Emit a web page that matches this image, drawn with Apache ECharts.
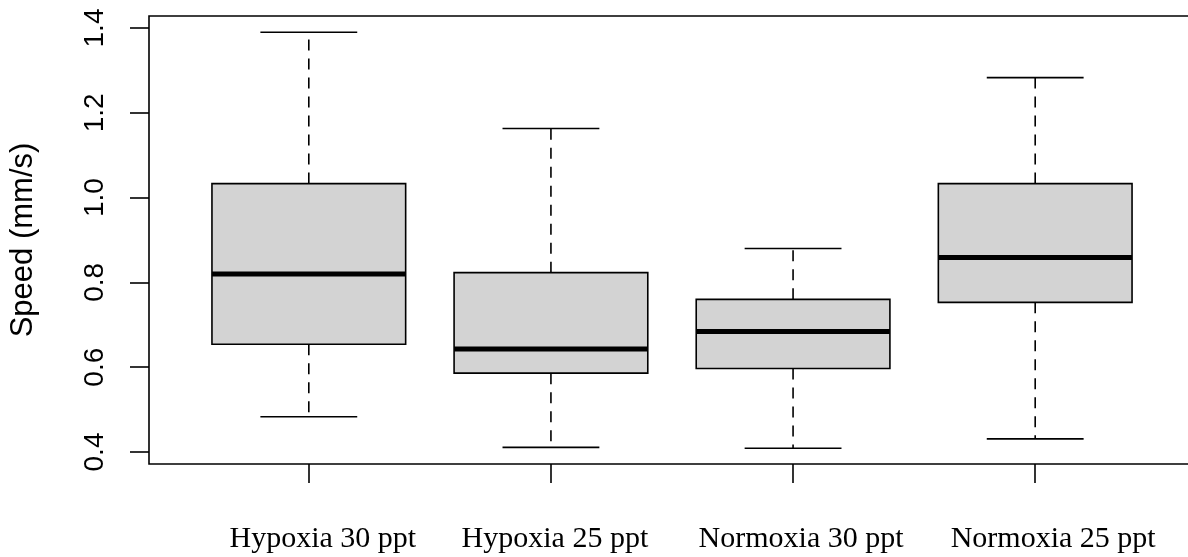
<!DOCTYPE html>
<html>
<head>
<meta charset="utf-8">
<script src="https://cdn.jsdelivr.net/npm/echarts@6/dist/echarts.min.js"></script>
<style>
  html, body { margin: 0; padding: 0; background: #fff; overflow: hidden; }
  #chart { width: 1188px; height: 557px; }
</style>
</head>
<body>
<div id="chart"></div>
<script>
var groups = ['Hypoxia 30 ppt', 'Hypoxia 25 ppt', 'Normoxia 30 ppt', 'Normoxia 25 ppt']
var lowWhisker = [0.483, 0.411, 0.409, 0.431]
var q1 = [0.654, 0.586, 0.597, 0.753]
var median = [0.820, 0.643, 0.684, 0.859]
var q3 = [1.033, 0.823, 0.760, 1.033]
var highWhisker = [1.390, 1.163, 0.880, 1.283]
var yTicks = [0.4, 0.6, 0.8, 1.0, 1.2, 1.4]
var xTicks = [1, 2, 3, 4]

var chart = echarts.init(document.getElementById('chart'))

var rows = groups.map(function (g, i) {
  return [i + 1, lowWhisker[i], q1[i], median[i], q3[i], highWhisker[i]]
})

// labels in the original sit a little right of their ticks
var labelShift = [28, 8, 16, 36]
var rich = {}
labelShift.forEach(function (s, i) {
  rich['l' + i] = {
    fontFamily: 'Liberation Serif',
    fontSize: 30,
    color: '#000',
    padding: [0, 0, 0, s]
  }
})

function renderBox(params, api) {
  var x = api.value(0)
  var lo = api.coord([x, api.value(1)])
  var b1 = api.coord([x, api.value(2)])
  var md = api.coord([x, api.value(3)])
  var b3 = api.coord([x, api.value(4)])
  var hi = api.coord([x, api.value(5)])
  var boxW = api.size([0.8, 0])[0]
  var capW = boxW / 2
  var cx = lo[0]
  var dash = { stroke: '#000', lineWidth: 1.6, lineDash: [11, 8] }
  var solid = { stroke: '#000', lineWidth: 1.6 }
  return {
    type: 'group',
    children: [
      { type: 'line', shape: { x1: cx, y1: b3[1], x2: cx, y2: hi[1] }, style: dash },
      { type: 'line', shape: { x1: cx, y1: b1[1], x2: cx, y2: lo[1] }, style: dash },
      { type: 'line', shape: { x1: cx - capW / 2, y1: hi[1], x2: cx + capW / 2, y2: hi[1] }, style: solid },
      { type: 'line', shape: { x1: cx - capW / 2, y1: lo[1], x2: cx + capW / 2, y2: lo[1] }, style: solid },
      {
        type: 'rect',
        shape: { x: cx - boxW / 2, y: b3[1], width: boxW, height: b1[1] - b3[1] },
        style: { fill: '#d3d3d3', stroke: '#000', lineWidth: 1.6 }
      },
      { type: 'line', shape: { x1: cx - boxW / 2, y1: md[1], x2: cx + boxW / 2, y2: md[1] }, style: { stroke: '#000', lineWidth: 5 } }
    ]
  }
}

var option = {
  animation: false,
  backgroundColor: '#fff',
  grid: {
    left: 149,
    width: 1046,
    top: 16,
    height: 448,
    outerBoundsMode: 'none',
    show: true,
    borderColor: '#000',
    borderWidth: 1.6,
    backgroundColor: 'transparent'
  },
  xAxis: {
    type: 'value',
    min: 0.34,
    max: 4.66,
    axisLine: { show: false },
    splitLine: { show: false },
    axisTick: {
      show: true,
      customValues: xTicks,
      length: 19,
      lineStyle: { color: '#000', width: 1.6 }
    },
    axisLabel: {
      show: true,
      customValues: xTicks,
      margin: 60,
      formatter: function (v) {
        var i = Math.round(v) - 1
        return '{l' + i + '|' + groups[i] + '}'
      },
      rich: rich
    }
  },
  yAxis: {
    type: 'value',
    min: 0.3717,
    max: 1.4283,
    name: 'Speed (mm/s)',
    nameLocation: 'middle',
    nameRotate: 90,
    nameGap: 110,
    nameTextStyle: {
      fontFamily: 'Liberation Sans',
      fontSize: 31,
      color: '#000'
    },
    axisLine: { show: false },
    splitLine: { show: false },
    axisTick: {
      show: true,
      customValues: yTicks,
      length: 19,
      lineStyle: { color: '#000', width: 1.6 }
    },
    axisLabel: {
      show: true,
      customValues: yTicks,
      rotate: 90,
      margin: 40,
      fontFamily: 'Liberation Sans',
      fontSize: 28,
      color: '#000',
      formatter: function (v) { return v.toFixed(1) }
    }
  },
  series: [{
    type: 'custom',
    renderItem: renderBox,
    encode: { x: 0, y: [1, 2, 3, 4, 5] },
    data: rows
  }]
}

chart.setOption(option)
</script>
</body>
</html>
